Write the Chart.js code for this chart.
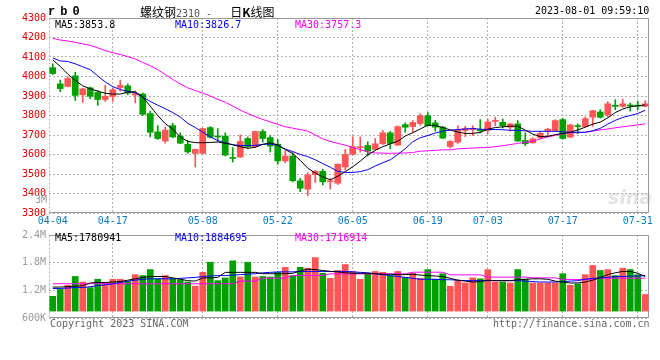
<!DOCTYPE html>
<html>
<head>
<meta charset="utf-8">
<script src="https://cdn.jsdelivr.net/npm/chart.js@4.4.0/dist/chart.umd.min.js"></script>
<style>
  body { margin: 0; background: #fff; }
  #wrap { position: relative; width: 660px; height: 360px; overflow: hidden; }
  canvas { position: absolute; left: 0; }
  .t { position: absolute; font: 10px "DejaVu Sans Mono", monospace; line-height: 12px; white-space: pre; }
</style>
</head>
<body>
<div id="wrap">
  <div class="t" style="left:608px;top:186px;font:italic bold 19px 'DejaVu Sans';color:#e4e4e4">sina</div>
  <canvas id="kline" width="660" height="228" style="top:0"></canvas>
  <canvas id="vol" width="660" height="104" style="top:226px"></canvas>

  <div class="t" style="left:48px;top:5px;font:bold 12px 'Liberation Mono';letter-spacing:5px">rb0</div>
  <div class="t" style="left:140px;top:3px"><span style="font:12px 'Noto Sans CJK SC'">螺纹钢</span><span style="color:#555">2310 -   </span><span style="font:12px 'Noto Sans CJK SC'">日<b>K</b>线图</span></div>
  <div class="t" style="left:535px;top:5px">2023-08-01 09:59:10</div>

  <div class="t" style="left:55px;top:19px;color:#000">MA5:3853.8</div>
  <div class="t" style="left:175px;top:19px;color:#0000ff">MA10:3826.7</div>
  <div class="t" style="left:295px;top:19px;color:#ff00ff">MA30:3757.3</div>
  <div class="t" style="left:35px;top:194px;color:#999">3M</div>

  <div class="t" style="left:55px;top:232px;color:#000">MA5:1780941</div>
  <div class="t" style="left:175px;top:232px;color:#0000ff">MA10:1884695</div>
  <div class="t" style="left:295px;top:232px;color:#ff00ff">MA30:1716914</div>

  <div class="t" style="left:50px;top:318px;color:#666">Copyright 2023 SINA.COM</div>
  <div class="t" style="left:493px;top:318px;color:#666">http://finance.sina.com.cn</div>
</div>

<script>
"use strict";

const MONO = "'DejaVu Sans Mono', monospace";
const RED = '#ff5555';
const GREEN = '#00a000';
const GRID = '#b0b0b0';

// trading days 2023-04-04 .. 2023-08-01
const dates = [
  '04-04','04-06','04-07','04-10','04-11','04-12','04-13','04-14','04-17','04-18',
  '04-19','04-20','04-21','04-24','04-25','04-26','04-27','04-28','05-04','05-05',
  '05-08','05-09','05-10','05-11','05-12','05-15','05-16','05-17','05-18','05-19',
  '05-22','05-23','05-24','05-25','05-26','05-29','05-30','05-31','06-01','06-02',
  '06-05','06-06','06-07','06-08','06-09','06-12','06-13','06-14','06-15','06-16',
  '06-19','06-20','06-21','06-26','06-27','06-28','06-29','06-30','07-03','07-04',
  '07-05','07-06','07-07','07-10','07-11','07-12','07-13','07-14','07-17','07-18',
  '07-19','07-20','07-21','07-24','07-25','07-26','07-27','07-28','07-31','08-01'
];
const tickDates = ['04-04','04-17','05-08','05-22','06-05','06-19','07-03','07-17','07-31'];

const opens = [
  4045,3962,3949,4003,3906,3942,3918,3882,3898,3944,
  3952,3905,3910,3810,3716,3669,3748,3694,3652,3606,
  3606,3738,3693,3694,3582,3587,3682,3640,3718,3687,
  3652,3567,3592,3465,3422,3497,3514,3460,3453,3536,
  3601,3635,3646,3626,3655,3711,3648,3753,3743,3759,
  3799,3762,3740,3641,3663,3723,3728,3728,3723,3770,
  3765,3740,3757,3672,3660,3686,3719,3723,3779,3689,
  3746,3743,3791,3818,3804,3852,3847,3853,3851,3847
];
const closes = [
  4015,3938,3990,3903,3937,3898,3882,3898,3932,3954,
  3915,3912,3806,3714,3682,3725,3690,3658,3613,3626,
  3733,3689,3690,3597,3580,3667,3640,3718,3682,3643,
  3567,3592,3465,3427,3494,3514,3460,3465,3550,3601,
  3640,3640,3618,3655,3711,3657,3743,3740,3764,3799,
  3748,3740,3684,3667,3728,3733,3732,3722,3767,3773,
  3748,3757,3669,3655,3680,3709,3730,3774,3682,3752,
  3743,3784,3825,3791,3860,3847,3860,3849,3848,3860
];
const highs = [
  4065,3982,3998,4022,3940,3947,3927,3955,3940,3982,
  3962,3925,3915,3822,3748,3740,3760,3711,3672,3628,
  3735,3743,3733,3711,3635,3701,3690,3720,3728,3697,
  3677,3618,3609,3478,3507,3519,3524,3477,3552,3626,
  3691,3690,3665,3682,3724,3719,3747,3762,3774,3809,
  3815,3776,3745,3672,3747,3745,3748,3779,3782,3791,
  3782,3759,3774,3711,3686,3719,3735,3779,3786,3755,
  3757,3792,3827,3830,3871,3881,3884,3864,3874,3876
];
const lows = [
  4010,3922,3947,3877,3867,3886,3852,3872,3872,3925,
  3907,3865,3800,3690,3677,3658,3686,3655,3606,3536,
  3603,3685,3668,3592,3561,3585,3632,3638,3663,3612,
  3550,3558,3460,3409,3388,3456,3444,3422,3446,3519,
  3598,3612,3592,3623,3651,3630,3646,3714,3714,3750,
  3746,3720,3682,3633,3657,3691,3697,3711,3706,3748,
  3736,3720,3667,3646,3657,3680,3691,3720,3680,3686,
  3706,3740,3745,3787,3792,3830,3842,3822,3830,3845
];

const ma5 = [
  4085,4052,4012,3980,3952,3937,3925,3914,3910,3910,
  3920,3922,3895,3848,3800,3758,3730,3690,3667,3661,
  3660,3662,3664,3658,3650,3640,3632,3637,3652,3660,
  3650,3625,3605,3570,3530,3505,3485,3470,3488,3512,
  3537,3566,3598,3621,3640,3655,3668,3695,3712,3731,
  3750,3749,3738,3726,3715,3708,3708,3713,3730,3738,
  3742,3745,3745,3725,3705,3692,3693,3702,3708,3714,
  3726,3740,3756,3766,3788,3815,3833,3845,3850,3854
];
const ma10 = [
  4095,4080,4077,4065,4050,4035,4003,3972,3948,3933,
  3924,3916,3895,3872,3853,3835,3815,3792,3760,3738,
  3715,3690,3671,3660,3650,3646,3646,3647,3652,3654,
  3647,3628,3615,3600,3589,3573,3553,3535,3513,3508,
  3508,3512,3522,3541,3558,3573,3600,3630,3665,3686,
  3697,3710,3720,3725,3728,3731,3733,3730,3728,3728,
  3727,3724,3724,3721,3719,3719,3719,3719,3716,3714,
  3714,3714,3722,3734,3756,3775,3790,3800,3810,3827
];
const ma30 = [
  4196,4187,4182,4175,4167,4160,4147,4133,4122,4113,
  4102,4090,4072,4055,4035,4010,3985,3962,3942,3928,
  3915,3900,3883,3868,3848,3828,3810,3794,3780,3767,
  3755,3742,3735,3728,3720,3700,3680,3667,3657,3648,
  3636,3625,3613,3608,3607,3606,3607,3608,3610,3617,
  3619,3621,3624,3624,3629,3631,3633,3635,3636,3640,
  3645,3651,3657,3662,3668,3680,3690,3698,3706,3711,
  3712,3714,3720,3726,3731,3737,3742,3747,3752,3757
];

const volumes = [
  1070000,1220000,1310000,1500000,1380000,1260000,1440000,1360000,1440000,1440000,
  1390000,1540000,1520000,1650000,1450000,1520000,1450000,1430000,1380000,1290000,
  1590000,1810000,1410000,1470000,1840000,1490000,1810000,1490000,1500000,1490000,
  1590000,1700000,1520000,1700000,1680000,1910000,1570000,1460000,1630000,1760000,
  1610000,1440000,1560000,1610000,1590000,1520000,1610000,1480000,1570000,1460000,
  1650000,1440000,1560000,1290000,1410000,1360000,1470000,1450000,1650000,1380000,
  1380000,1360000,1650000,1440000,1360000,1360000,1360000,1360000,1560000,1310000,
  1340000,1540000,1740000,1630000,1650000,1520000,1680000,1650000,1540000,1110000
];
const volMa5 = [
  1270000,1270000,1280000,1290000,1300000,1360000,1370000,1370000,1380000,1390000,
  1420000,1450000,1480000,1500000,1500000,1500000,1470000,1440000,1410000,1400000,
  1470000,1470000,1480000,1590000,1590000,1590000,1590000,1590000,1560000,1560000,
  1560000,1560000,1570000,1620000,1660000,1650000,1630000,1610000,1600000,1580000,
  1570000,1570000,1570000,1560000,1550000,1550000,1540000,1540000,1550000,1530000,
  1520000,1510000,1500000,1460000,1420000,1400000,1380000,1390000,1420000,1410000,
  1410000,1410000,1430000,1440000,1450000,1450000,1440000,1400000,1380000,1360000,
  1360000,1380000,1420000,1480000,1540000,1580000,1610000,1610000,1570000,1500000
];
const volMa10 = [
  1240000,1240000,1250000,1260000,1260000,1280000,1300000,1320000,1340000,1370000,
  1400000,1420000,1440000,1450000,1450000,1450000,1450000,1460000,1470000,1480000,
  1500000,1510000,1520000,1520000,1530000,1540000,1550000,1560000,1580000,1590000,
  1600000,1600000,1600000,1610000,1610000,1610000,1610000,1610000,1610000,1610000,
  1600000,1590000,1580000,1560000,1540000,1520000,1500000,1480000,1460000,1440000,
  1440000,1440000,1430000,1430000,1420000,1410000,1410000,1410000,1410000,1410000,
  1410000,1410000,1410000,1400000,1390000,1380000,1380000,1380000,1390000,1400000,
  1410000,1440000,1460000,1470000,1480000,1500000,1500000,1510000,1510000,1520000
];
const volMa30 = [
  1343000,1343000,1343000,1343000,1343000,1343000,1343000,1343000,1343000,1343000,
  1343000,1343000,1343000,1343000,1343000,1343000,1343000,1343000,1343000,1343000,
  1343000,1343000,1343000,1343000,1343000,1400000,1400000,1400000,1464000,1464000,
  1464000,1464000,1521000,1521000,1521000,1521000,1521000,1557000,1557000,1557000,
  1557000,1557000,1557000,1557000,1557000,1557000,1557000,1557000,1593000,1593000,
  1593000,1593000,1593000,1536000,1536000,1536000,1536000,1536000,1486000,1486000,
  1486000,1486000,1486000,1486000,1471000,1471000,1471000,1471000,1436000,1436000,
  1436000,1436000,1436000,1464000,1464000,1464000,1464000,1464000,1464000,1464000
];

const candleColors = closes.map((c, i) => c >= opens[i] ? RED : GREEN);
const bodies = opens.map((o, i) => [o, closes[i]]);
const wicks = lows.map((l, i) => [l, highs[i]]);

// dotted grid at the labelled dates only, skip the left edge
const xGridColor = ctx => {
  const d = dates[ctx.index];
  return ctx.index > 0 && tickDates.includes(d) ? GRID : 'rgba(0,0,0,0)';
};

const framePlugin = {
  id: 'frame',
  beforeDatasetsDraw(chart) {
    const { ctx, chartArea: a } = chart;
    const l = Math.round(a.left) + 0.5, r = Math.round(a.right) - 0.5;
    const t = Math.round(a.top) + 0.5, b = Math.round(a.bottom) - 0.5;
    ctx.save();
    ctx.lineWidth = 1;
    ctx.strokeStyle = '#999';
    ctx.beginPath();
    ctx.moveTo(l, t); ctx.lineTo(r, t); ctx.lineTo(r, b); ctx.lineTo(l, b);
    ctx.stroke();
    ctx.setLineDash([2, 2]);
    ctx.strokeStyle = GRID;
    ctx.beginPath();
    ctx.moveTo(l, t); ctx.lineTo(l, b);
    ctx.stroke();
    ctx.restore();
  }
};

function lineSet(data, color) {
  return { type: 'line', data: data, borderColor: color, borderWidth: 1, pointRadius: 0, tension: 0, order: 0 };
}

function xAxis(showLabels) {
  return {
    offset: true,
    grid: { offset: false, drawTicks: false, color: xGridColor },
    border: { display: false, dash: [2, 2] },
    ticks: {
      display: showLabels,
      autoSkip: false, maxRotation: 0, minRotation: 0, padding: 2,
      color: '#0a78c8', font: { family: MONO, size: 10 },
      callback: (v, i) => tickDates.includes(dates[i]) ? dates[i] : ''
    },
    afterFit: s => { s.height = showLabels ? 15 : 0; }
  };
}

new Chart(document.getElementById('kline'), {
  type: 'bar',
  data: {
    labels: dates,
    datasets: [
      lineSet(ma5, '#000000'),
      lineSet(ma10, '#0000ff'),
      lineSet(ma30, '#ff00ff'),
      { data: bodies, backgroundColor: candleColors, barThickness: 6, minBarLength: 1, grouped: false, order: 1 },
      { data: wicks, backgroundColor: candleColors, barThickness: 1, grouped: false, order: 2 }
    ]
  },
  options: {
    responsive: false, animation: false, devicePixelRatio: 1,
    layout: { padding: { left: 0, right: 11, top: 18, bottom: 0 } },
    plugins: { legend: { display: false }, tooltip: { enabled: false } },
    scales: {
      x: xAxis(true),
      y: {
        min: 3300, max: 4300,
        ticks: { stepSize: 100, padding: 3, color: '#e00000', font: { family: MONO, size: 10 }, callback: v => String(v) },
        grid: { drawTicks: false, color: GRID },
        border: { display: false, dash: [2, 2] },
        afterFit: s => { s.width = 49; }
      }
    }
  },
  plugins: [framePlugin]
});

new Chart(document.getElementById('vol'), {
  type: 'bar',
  data: {
    labels: dates,
    datasets: [
      lineSet(volMa5, '#000000'),
      lineSet(volMa10, '#0000ff'),
      lineSet(volMa30, '#ff00ff'),
      { data: volumes, backgroundColor: candleColors, barThickness: 6, base: 750000, order: 1 }
    ]
  },
  options: {
    responsive: false, animation: false, devicePixelRatio: 1,
    layout: { padding: { left: 0, right: 11, top: 8, bottom: 12 } },
    plugins: { legend: { display: false }, tooltip: { enabled: false } },
    scales: {
      x: xAxis(false),
      y: {
        min: 600000, max: 2400000,
        ticks: {
          stepSize: 600000, padding: 3, color: '#999', font: { family: MONO, size: 10 },
          callback: v => v >= 1000000 ? (v / 1000000).toFixed(1) + 'M' : (v / 1000) + 'K'
        },
        grid: { drawTicks: false, color: GRID },
        border: { display: false, dash: [2, 2] },
        afterFit: s => { s.width = 49; }
      }
    }
  },
  plugins: [framePlugin]
});
</script>
</body>
</html>
